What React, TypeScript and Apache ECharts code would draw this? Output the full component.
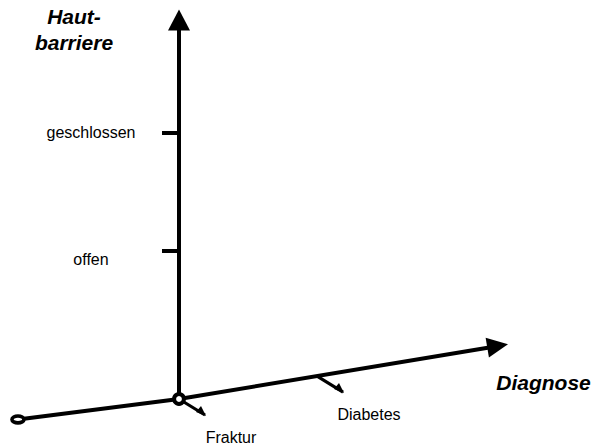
import React, { useEffect, useRef } from 'react';
import * as echarts from 'echarts';

// Vertical axis: skin barrier state
const levels = ['offen', 'geschlossen'];
const levelValues = [1, 1.8];

// Oblique axis: diagnoses (positions along the Diagnose axis)
const diagnoses = ['Fraktur', 'Diabetes'];
const diagnosisPositions = [0, 1];
const diagnoseAxisRise = 0.155; // y gain per x unit of the Diagnose axis (right of origin)
const diagnoseAxisTail = [-1.167, -0.138];
const diagnoseAxisTipX = 2.384;

const yAxisTitle = 'Haut-\nbarriere';
const xAxisTitle = 'Diagnose';

const FONT = '"Liberation Sans", Arial, Helvetica, sans-serif';

export default function App() {
  const ref = useRef<HTMLDivElement>(null);

  useEffect(() => {
    const chart = echarts.init(ref.current as HTMLDivElement, null, { renderer: 'svg' });
    const tip = [diagnoseAxisTipX, diagnoseAxisTipX * diagnoseAxisRise];
    const levelName = (v: number) => {
      const i = levelValues.findIndex((l) => Math.abs(l - v) < 1e-6);
      return i >= 0 ? levels[i] : '';
    };

    chart.setOption({
      animation: false,
      backgroundColor: '#ffffff',
      textStyle: { fontFamily: FONT },
      grid: { left: 179, right: 2, top: 20, bottom: 49, containLabel: false, outerBoundsMode: 'none' },
      xAxis: { type: 'value', min: 0, max: 3, show: false },
      yAxis: {
        type: 'value',
        min: 0,
        max: 2.56,
        axisLine: {
          show: true,
          onZero: false,
          symbol: ['none', 'triangle'],
          symbolSize: [22, 21],
          lineStyle: { color: '#000', width: 4 },
        },
        axisTick: {
          show: true,
          customValues: levelValues,
          length: 17,
          lineStyle: { color: '#000', width: 4 },
        },
        axisLabel: {
          show: true,
          customValues: levelValues,
          margin: 88,
          align: 'center',
          color: '#000',
          fontSize: 16,
          fontFamily: FONT,
          formatter: (v: number) => {
            const n = levelName(v);
            return n === 'offen' ? `{low|${n}}` : `{std|${n}}`;
          },
          rich: {
            low: { padding: [17, 0, 0, 0], fontSize: 16, color: '#000', fontFamily: FONT },
            std: { fontSize: 16, color: '#000', fontFamily: FONT },
          },
        },
        splitLine: { show: false },
      },
      graphic: [
        {
          type: 'text',
          x: 74,
          y: 29.5,
          style: {
            text: yAxisTitle,
            fill: '#000',
            fontSize: 21,
            fontWeight: 'bold',
            fontStyle: 'italic',
            fontFamily: FONT,
            align: 'center',
            verticalAlign: 'middle',
            lineHeight: 26,
          },
        },
        {
          type: 'text',
          x: 543.5,
          y: 382.6,
          style: {
            text: xAxisTitle,
            fill: '#000',
            fontSize: 21,
            fontWeight: 'bold',
            fontStyle: 'italic',
            fontFamily: FONT,
            align: 'center',
            verticalAlign: 'middle',
          },
        },
      ],
      series: [
        {
          type: 'custom',
          coordinateSystem: 'cartesian2d',
          clip: false,
          silent: true,
          z: 4,
          data: diagnosisPositions.map((p) => [p, p * diagnoseAxisRise]),
          renderItem: (params: any, api: any) => {
            const pt = api.coord([api.value(0), api.value(1)]);
            const end = [pt[0] + 26, pt[1] + 16];
            return {
              type: 'group',
              children: [
                {
                  type: 'polyline',
                  shape: { points: [pt, end] },
                  style: { stroke: '#000', lineWidth: 3.2, fill: null },
                },
                {
                  type: 'polygon',
                  shape: { points: [[end[0] + 1, end[1] + 1], [end[0] - 9, end[1] - 3], [end[0] - 4, end[1] - 9]] },
                  style: { fill: '#000' },
                },
                {
                  type: 'text',
                  x: pt[0] + 52,
                  y: pt[1] + 38.5,
                  style: {
                    text: diagnoses[params.dataIndex],
                    fill: '#000',
                    fontSize: 16,
                    fontFamily: FONT,
                    align: 'center',
                    verticalAlign: 'middle',
                  },
                },
              ],
            };
          },
        },
        {
          type: 'custom',
          coordinateSystem: 'cartesian2d',
          clip: false,
          silent: true,
          z: 5,
          data: [[0, 0]],
          renderItem: (params: any, api: any) => {
            const o = api.coord([0, 0]);
            const t = api.coord(diagnoseAxisTail);
            const p = api.coord(tip);
            const dx = p[0] - o[0];
            const dy = p[1] - o[1];
            const len = Math.hypot(dx, dy);
            const ux = dx / len;
            const uy = dy / len;
            const nx = -uy;
            const ny = ux;
            const headLen = 21;
            const headHalf = 10;
            const bx = p[0] - ux * headLen;
            const by = p[1] - uy * headLen;
            return {
              type: 'group',
              children: [
                {
                  type: 'polyline',
                  shape: { points: [t, o, [bx + ux * 2, by + uy * 2]] },
                  style: { stroke: '#000', lineWidth: 4, fill: null },
                },
                {
                  type: 'polygon',
                  shape: {
                    points: [p, [bx + nx * headHalf, by + ny * headHalf], [bx - nx * headHalf, by - ny * headHalf]],
                  },
                  style: { fill: '#000' },
                },
                {
                  type: 'ellipse',
                  shape: { cx: t[0], cy: t[1], rx: 6, ry: 3.4 },
                  style: { fill: '#fff', stroke: '#000', lineWidth: 3.6 },
                },
                {
                  type: 'circle',
                  shape: { cx: o[0], cy: o[1], r: 4.9 },
                  style: { fill: '#fff', stroke: '#000', lineWidth: 4 },
                },
              ],
            };
          },
        },
      ],
    });

    return () => chart.dispose();
  }, []);

  return <div ref={ref} style={{ position: 'absolute', left: 0, top: 0, width: 595, height: 448 }} />;
}
